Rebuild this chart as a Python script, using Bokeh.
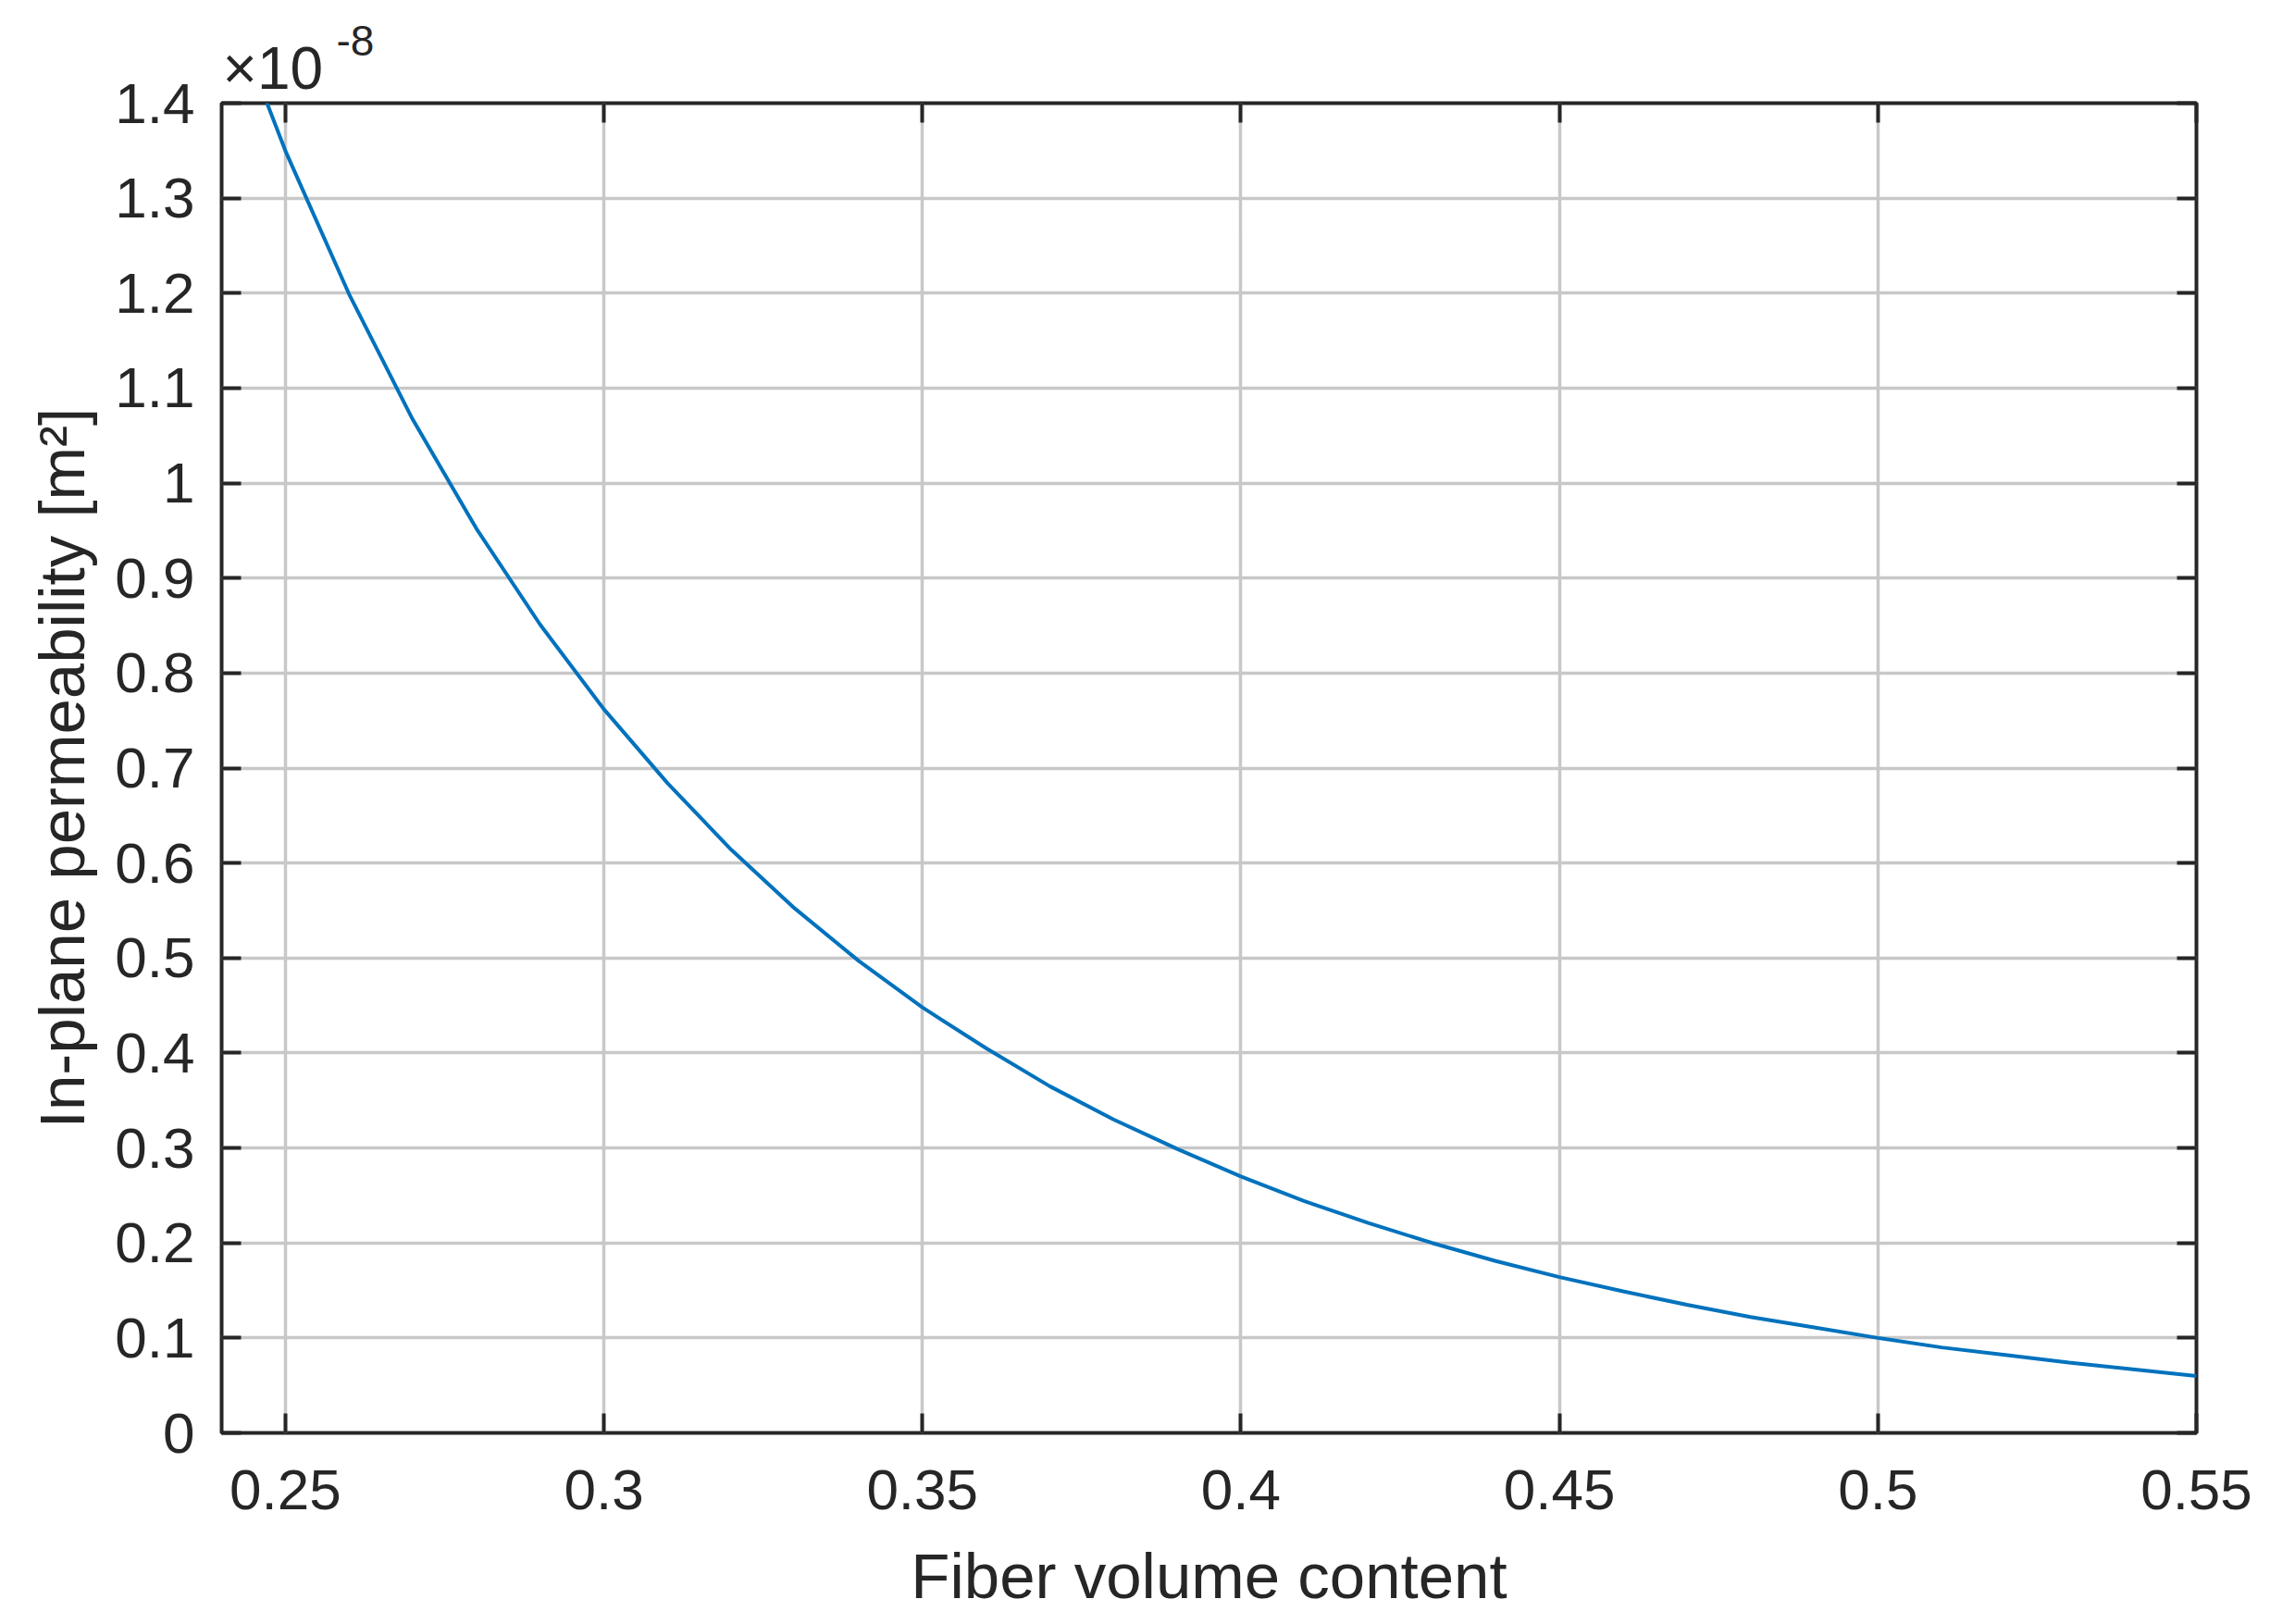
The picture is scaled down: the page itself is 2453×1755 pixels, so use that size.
from bokeh.plotting import figure
from bokeh.models import (ColumnDataSource, FixedTicker, CustomJSTickFormatter,
                          LinearAxis, Label, Range1d)
from bokeh.embed import file_html
from bokeh.resources import INLINE

# ---- data (permeability in units of 1e-8 m^2) ----
fiber_volume = [0.24, 0.25, 0.26, 0.27, 0.28, 0.29, 0.30, 0.31, 0.32, 0.33,
                0.34, 0.35, 0.36, 0.37, 0.38, 0.39, 0.40, 0.41, 0.42, 0.43,
                0.44, 0.45, 0.46, 0.47, 0.48, 0.49, 0.50, 0.51, 0.52, 0.53,
                0.54, 0.55]
permeability_e8 = [1.524, 1.350, 1.199, 1.067, 0.952, 0.851, 0.762, 0.684,
                   0.614, 0.552, 0.497, 0.448, 0.405, 0.365, 0.330, 0.299,
                   0.270, 0.244, 0.221, 0.200, 0.181, 0.164, 0.149, 0.135,
                   0.122, 0.111, 0.100, 0.090, 0.082, 0.074, 0.067, 0.060]

x_ticks = [0.25, 0.30, 0.35, 0.40, 0.45, 0.50, 0.55]
x_tick_labels = ["0.25", "0.3", "0.35", "0.4", "0.45", "0.5", "0.55"]
y_ticks = [0.0, 0.1, 0.2, 0.3, 0.4, 0.5, 0.6, 0.7, 0.8, 0.9, 1.0, 1.1, 1.2, 1.3, 1.4]
y_tick_labels = ["0", "0.1", "0.2", "0.3", "0.4", "0.5", "0.6", "0.7", "0.8",
                 "0.9", "1", "1.1", "1.2", "1.3", "1.4"]
exponent_base = "×10"
exponent_power = "-8"

FONT = "Liberation Sans"
INK = "#262626"

p = figure(frame_width=2134, frame_height=1437, title_location=None,
           x_range=Range1d(0.24, 0.55), y_range=Range1d(0, 1.4),
           output_backend="svg", toolbar_location=None,
           min_border_left=239, min_border_right=70,
           min_border_top=111, min_border_bottom=0)
p.background_fill_color = "white"
p.border_fill_color = "white"
p.outline_line_color = INK
p.outline_line_width = 4

src = ColumnDataSource(dict(x=fiber_volume, y=permeability_e8))
p.line("x", "y", source=src, line_color="#0072BD", line_width=4)

def fmt(vals, labels):
    return CustomJSTickFormatter(args=dict(tvals=vals, tlabels=labels), code="""
        for (let i = 0; i < tvals.length; i++) {
            if (Math.abs(tvals[i] - tick) < 1e-9) return tlabels[i];
        }
        return "";
    """)

def style_axis(ax, vals, formatter, label_size="62px"):
    ax.ticker = FixedTicker(ticks=vals)
    ax.formatter = formatter
    ax.minor_tick_line_color = None
    ax.major_tick_in = 21
    ax.major_tick_out = 0
    ax.major_tick_line_color = INK
    ax.major_tick_line_width = 4
    ax.axis_line_color = None
    ax.major_label_text_font = FONT
    ax.major_label_text_font_size = label_size
    ax.major_label_text_color = INK
    ax.axis_label_text_font = FONT
    ax.axis_label_text_font_size = "69px"
    ax.axis_label_text_font_style = "normal"
    ax.axis_label_text_color = INK

xa = p.xaxis[0]
style_axis(xa, x_ticks, fmt(x_ticks, x_tick_labels))
xa.axis_label = "Fiber volume content"
xa.major_label_standoff = 40
xa.axis_label_standoff = 31

ya = p.yaxis[0]
style_axis(ya, y_ticks, fmt(y_ticks, y_tick_labels))
ya.axis_label = "In-plane permeability [m²]"
ya.major_label_standoff = 29
ya.axis_label_standoff = 15

top = LinearAxis()
style_axis(top, x_ticks, CustomJSTickFormatter(code="return '';"), "0px")
top.major_label_standoff = 0
p.add_layout(top, "above")

right = LinearAxis()
style_axis(right, y_ticks, CustomJSTickFormatter(code="return '';"), "0px")
right.major_label_standoff = 0
p.add_layout(right, "right")

p.xgrid.ticker = FixedTicker(ticks=x_ticks)
p.ygrid.ticker = FixedTicker(ticks=y_ticks)
for g in (p.xgrid[0], p.ygrid[0]):
    g.grid_line_color = "#c8c8c8"
    g.grid_line_width = 3.5

# exponent label (x10^-8) anchored to the top-left corner of the axes;
# placed in side panels so that it is not clipped to the plot frame
lab_base = Label(x=0.24, y=1.4, x_offset=1, y_offset=2, text=exponent_base,
                 text_font=FONT, text_font_size="64px", text_color=INK,
                 text_baseline="bottom", text_align="left")
lab_pow = Label(x=0.24, y=1.4, x_offset=124, y_offset=52, text=exponent_power,
                text_font=FONT, text_font_size="46px", text_color=INK,
                text_baseline="bottom", text_align="left")
p.add_layout(lab_base, "above")
p.add_layout(lab_pow, "right")

open("out.html", "w").write(file_html(p, INLINE))
